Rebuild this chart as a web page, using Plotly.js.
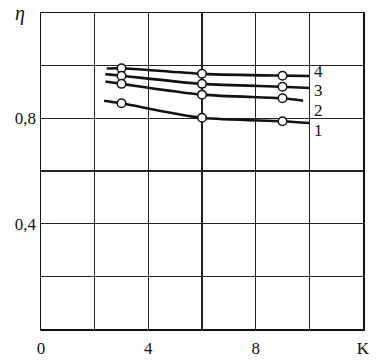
<!DOCTYPE html>
<html><head><meta charset="utf-8">
<script src="https://cdn.plot.ly/plotly-3.0.1.min.js"></script>
<style>html,body{margin:0;padding:0;background:#fff}</style>
</head><body><div id="chart" style="width:391px;height:360px"></div>
<script>
// Curve data: K values and efficiency eta
const lineX4 = [2.45, 3, 6, 9, 10];
const lineY4 = [0.989, 0.990, 0.969, 0.962, 0.961];
const lineX3 = [2.4, 3, 6, 9, 10];
const lineY3 = [0.968, 0.962, 0.931, 0.920, 0.915];
const lineX2 = [2.4, 3, 6, 9, 9.77];
const lineY2 = [0.940, 0.931, 0.890, 0.876, 0.867];
const lineX1 = [2.35, 3, 6, 9, 10];
const lineY1 = [0.867, 0.857, 0.802, 0.789, 0.782];
const markX = [3, 6, 9];
const markY4 = [0.990, 0.969, 0.962];
const markY3 = [0.962, 0.931, 0.920];
const markY2 = [0.931, 0.890, 0.876];
const markY1 = [0.857, 0.802, 0.789];
const curveLabels = ['4', '3', '2', '1'];
const labelX = 10.36;
const labelY = [0.977, 0.905, 0.830, 0.755];
const xTickVals = [0, 2, 4, 6, 8, 10, 12];
const xTickText = ['0', '', '4', '', '8', '', 'K'];
const yTickVals = [0, 0.2, 0.4, 0.6, 0.8, 1.0, 1.2];
const yTickText = ['', '', '0,4', '', '0,8', '', ''];

const font = {family: 'Liberation Serif, Times New Roman, serif', size: 17, color: '#111'};
const lineStyle = {color: '#111', width: 2.6, shape: 'spline', smoothing: 0.8};
const markerStyle = {symbol: 'circle', size: 8.5, color: '#fff', line: {color: '#111', width: 1.5}};

const lines = [[lineX4, lineY4], [lineX3, lineY3], [lineX2, lineY2], [lineX1, lineY1]];
const marks = [markY4, markY3, markY2, markY1];
const data = [];
lines.forEach(([x, y]) => data.push({x, y, mode: 'lines', line: lineStyle, hoverinfo: 'skip'}));
marks.forEach(y => data.push({x: markX, y, mode: 'markers', marker: markerStyle, hoverinfo: 'skip'}));

const annotations = curveLabels.map((t, i) => ({
  x: labelX, y: labelY[i], xref: 'x', yref: 'y', text: t, showarrow: false,
  xanchor: 'center', yanchor: 'middle', font: font
}));
annotations.push({x: -0.065, y: 1.0, xref: 'paper', yref: 'paper', text: '<i>η</i>', showarrow: false,
  xanchor: 'center', yanchor: 'middle', font: {family: font.family, size: 20, color: '#111'}});

const axisCommon = {showline: true, linecolor: '#111', linewidth: 1.5, mirror: true,
  showgrid: true, gridcolor: '#222', gridwidth: 1.3, zeroline: false, ticks: '', tickfont: font, fixedrange: true};

const layout = {
  width: 391, height: 360,
  margin: {l: 41, r: 28, t: 13, b: 31},
  paper_bgcolor: '#fff', plot_bgcolor: '#fff',
  showlegend: false,
  xaxis: Object.assign({}, axisCommon, {range: [0, 12], tickmode: 'array', tickvals: xTickVals, ticktext: xTickText, ticklabelstandoff: 3}),
  yaxis: Object.assign({}, axisCommon, {range: [0, 1.2], tickmode: 'array', tickvals: yTickVals, ticktext: yTickText}),
  annotations: annotations
};
Plotly.newPlot('chart', data, layout, {displayModeBar: false, staticPlot: true});
</script></body></html>
